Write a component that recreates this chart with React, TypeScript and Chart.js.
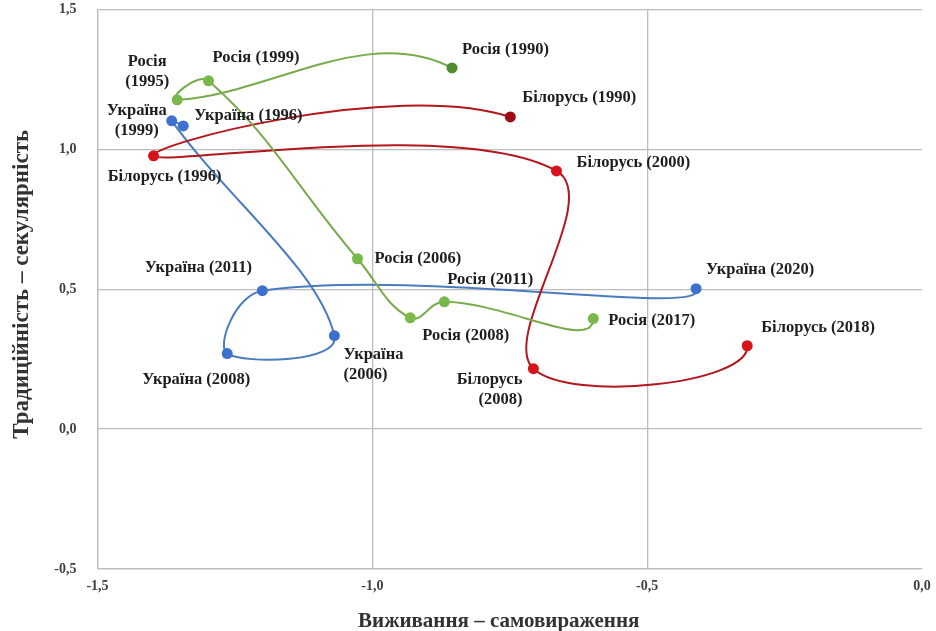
import React, { useEffect, useRef } from "react";
import { Chart, registerables } from "chart.js";
Chart.register(...registerables);

// ---- data ----
const russiaName = "Росія";
const russiaYears = [1990, 1995, 1999, 2006, 2008, 2011, 2017];
const russiaX = [-0.855, -1.355, -1.298, -1.027, -0.931, -0.869, -0.598];
const russiaY = [1.291, 1.177, 1.245, 0.609, 0.398, 0.455, 0.395];

const belarusName = "Білорусь";
const belarusYears = [1990, 1996, 2000, 2008, 2018];
const belarusX = [-0.749, -1.398, -0.665, -0.707, -0.318];
const belarusY = [1.116, 0.977, 0.923, 0.216, 0.298];

const ukraineName = "Україна";
const ukraineYears = [1996, 1999, 2006, 2008, 2011, 2020];
const ukraineX = [-1.344, -1.365, -1.069, -1.264, -1.2, -0.411];
const ukraineY = [1.084, 1.102, 0.334, 0.27, 0.495, 0.502];

const xTickValues = [-1.5, -1.0, -0.5, 0.0];
const yTickValues = [-0.5, 0.0, 0.5, 1.0, 1.5];

const xTitle = "Виживання – самовираження";
const yTitle = "Традиційність – секулярність";

// ---- label placement (styling, not data) ----
type LabelPos = { dx: number; dy: number[]; align: CanvasTextAlign };
const russiaLabelPos: LabelPos[] = [
  { dx: 10, dy: [-18], align: "left" },
  { dx: -30, dy: [-38, -18], align: "center" },
  { dx: 4, dy: [-23], align: "left" },
  { dx: 17, dy: [0], align: "left" },
  { dx: 12, dy: [18], align: "left" },
  { dx: 3, dy: [-22], align: "left" },
  { dx: 15, dy: [2], align: "left" },
];
const belarusLabelPos: LabelPos[] = [
  { dx: 12, dy: [-19], align: "left" },
  { dx: 11, dy: [21], align: "center" },
  { dx: 20, dy: [-8], align: "left" },
  { dx: -11, dy: [11, 31], align: "right" },
  { dx: 14, dy: [-18], align: "left" },
];
const ukraineLabelPos: LabelPos[] = [
  { dx: 11, dy: [-10], align: "left" },
  { dx: -35, dy: [-10, 10], align: "center" },
  { dx: 9, dy: [19, 39], align: "left" },
  { dx: -31, dy: [26], align: "center" },
  { dx: -64, dy: [-23], align: "center" },
  { dx: 10, dy: [-19], align: "left" },
];

const fmt = (v: number) => v.toFixed(1).replace(".", ",");

function makePoints(xs: number[], ys: number[]) {
  return xs.map((x, i) => ({ x, y: ys[i] }));
}

function labelLines(name: string, year: number, pos: LabelPos): string[] {
  return pos.dy.length > 1 ? [name, `(${year})`] : [`${name} (${year})`];
}

const datasetLabels = [
  { name: russiaName, years: russiaYears, pos: russiaLabelPos },
  { name: belarusName, years: belarusYears, pos: belarusLabelPos },
  { name: ukraineName, years: ukraineYears, pos: ukraineLabelPos },
];

// Spreadsheet-style smoothing: the same spline rule Chart.js uses, but the
// end points take their neighbours cyclically (as the source chart does).
const smoothPlugin = {
  id: "wrapSmooth",
  beforeDatasetsDraw(chart: any) {
    chart.data.datasets.forEach((ds: any, i: number) => {
      const meta = chart.getDatasetMeta(i);
      const line = meta.dataset;
      const pts = meta.data;
      const n = pts.length;
      if (!line || n < 3) return;
      line.updateControlPoints(chart.chartArea, "x");
      const t = ds.tension ?? 0.4;
      for (let k = 0; k < n; k++) {
        const p = pts[k];
        const prev = pts[(k - 1 + n) % n];
        const next = pts[(k + 1) % n];
        const d01 = Math.hypot(p.x - prev.x, p.y - prev.y);
        const d12 = Math.hypot(next.x - p.x, next.y - p.y);
        const sum = d01 + d12 || 1;
        const fa = (t * d01) / sum;
        const fb = (t * d12) / sum;
        const dx = next.x - prev.x;
        const dy = next.y - prev.y;
        p.cp1x = p.x - fa * dx;
        p.cp1y = p.y - fa * dy;
        p.cp2x = p.x + fb * dx;
        p.cp2y = p.y + fb * dy;
      }
      line._path = undefined;
    });
  },
};

const labelPlugin = {
  id: "pointLabels",
  afterDatasetsDraw(chart: any) {
    const ctx = chart.ctx as CanvasRenderingContext2D;
    ctx.save();
    ctx.font = "bold 16.5px 'Liberation Serif', 'Times New Roman', serif";
    ctx.fillStyle = "#1e1e1e";
    ctx.textBaseline = "middle";
    datasetLabels.forEach((d, di) => {
      const meta = chart.getDatasetMeta(di);
      meta.data.forEach((el: any, j: number) => {
        const pos = d.pos[j];
        const lines = labelLines(d.name, d.years[j], pos);
        ctx.textAlign = pos.align;
        lines.forEach((txt, k) => {
          ctx.fillText(txt, el.x + pos.dx, el.y + pos.dy[k]);
        });
      });
    });
    ctx.restore();
  },
  afterDraw(chart: any) {
    const ctx = chart.ctx as CanvasRenderingContext2D;
    const area = chart.chartArea;
    ctx.save();
    ctx.fillStyle = "#333333";
    ctx.textAlign = "center";
    ctx.textBaseline = "middle";
    ctx.font = "bold 21px 'Liberation Serif', 'Times New Roman', serif";
    ctx.fillText(xTitle, (area.left + area.right) / 2 - 11, area.bottom + 53);
    ctx.font = "bold 23px 'Liberation Serif', 'Times New Roman', serif";
    ctx.translate(22, (area.top + area.bottom) / 2 - 5);
    ctx.rotate(-Math.PI / 2);
    ctx.fillText(yTitle, 0, 0);
    ctx.restore();
  },
};

export default function App() {
  const ref = useRef<HTMLCanvasElement | null>(null);
  useEffect(() => {
    document.body.style.margin = "0";
    const canvas = ref.current!;
    const gridColor = "#bdbdbd";
    const tickFont = { family: "'Liberation Serif', 'Times New Roman', serif", size: 14, weight: "bold" as const };
    const chart = new Chart(canvas, {
      type: "scatter",
      data: {
        datasets: [
          {
            label: russiaName,
            data: makePoints(russiaX, russiaY),
            showLine: true,
            tension: 0.42,
            borderColor: "#77ab4c",
            borderWidth: 2,
            pointRadius: 5.5,
            pointBorderWidth: 0,
            pointBackgroundColor: russiaYears.map((_, i) => (i === 0 ? "#4e8d2f" : "#78b94a")),
          },
          {
            label: belarusName,
            data: makePoints(belarusX, belarusY),
            showLine: true,
            tension: 0.38,
            borderColor: "#b3161c",
            borderWidth: 2,
            pointRadius: 5.5,
            pointBorderWidth: 0,
            pointBackgroundColor: belarusYears.map((_, i) => (i === 0 ? "#9c0c12" : "#d6121a")),
          },
          {
            label: ukraineName,
            data: makePoints(ukraineX, ukraineY),
            showLine: true,
            tension: 0.4,
            borderColor: "#4a7bbd",
            borderWidth: 2,
            pointRadius: 5.5,
            pointBorderWidth: 0,
            pointBackgroundColor: ukraineYears.map(() => "#3d70cf"),
          },
        ],
      },
      options: {
        responsive: false,
        animation: false,
        layout: { padding: { top: 9.5, right: 14, left: 0, bottom: 0 } },
        plugins: {
          legend: { display: false },
          tooltip: { enabled: false },
        },
        scales: {
          x: {
            type: "linear",
            min: xTickValues[0],
            max: xTickValues[xTickValues.length - 1],
            afterBuildTicks: (scale: any) => {
              scale.ticks = xTickValues.map((v) => ({ value: v }));
            },
            afterFit: (scale: any) => {
              scale.height = 62;
              scale.paddingLeft = 0;
              scale.paddingRight = 0;
            },
            ticks: {
              callback: (v: any) => fmt(Number(v)),
              font: tickFont,
              color: "#404040",
              padding: 9,
              maxRotation: 0,
            },
            grid: {
              drawTicks: false,
              color: (c: any) => (c.tick && c.tick.value === 0 ? "rgba(0,0,0,0)" : gridColor),
              lineWidth: 1.3,
            },
            border: { display: true, color: gridColor, width: 1.3 },
          },
          y: {
            type: "linear",
            min: yTickValues[0],
            max: yTickValues[yTickValues.length - 1],
            afterBuildTicks: (scale: any) => {
              scale.ticks = yTickValues.map((v) => ({ value: v }));
            },
            afterFit: (scale: any) => {
              scale.width = 97.5;
              scale.paddingTop = 0;
              scale.paddingBottom = 0;
            },
            ticks: {
              callback: (v: any) => fmt(Number(v)),
              font: tickFont,
              color: "#404040",
              padding: 21,
            },
            grid: { drawTicks: false, color: gridColor, lineWidth: 1.3 },
            border: { display: true, color: gridColor, width: 1.3 },
          },
        },
      },
      plugins: [smoothPlugin, labelPlugin],
    });
    return () => chart.destroy();
  }, []);
  return (
    <div style={{ width: 936, height: 631, background: "#ffffff" }}>
      <canvas ref={ref} width={936} height={631} style={{ display: "block" }} />
    </div>
  );
}
